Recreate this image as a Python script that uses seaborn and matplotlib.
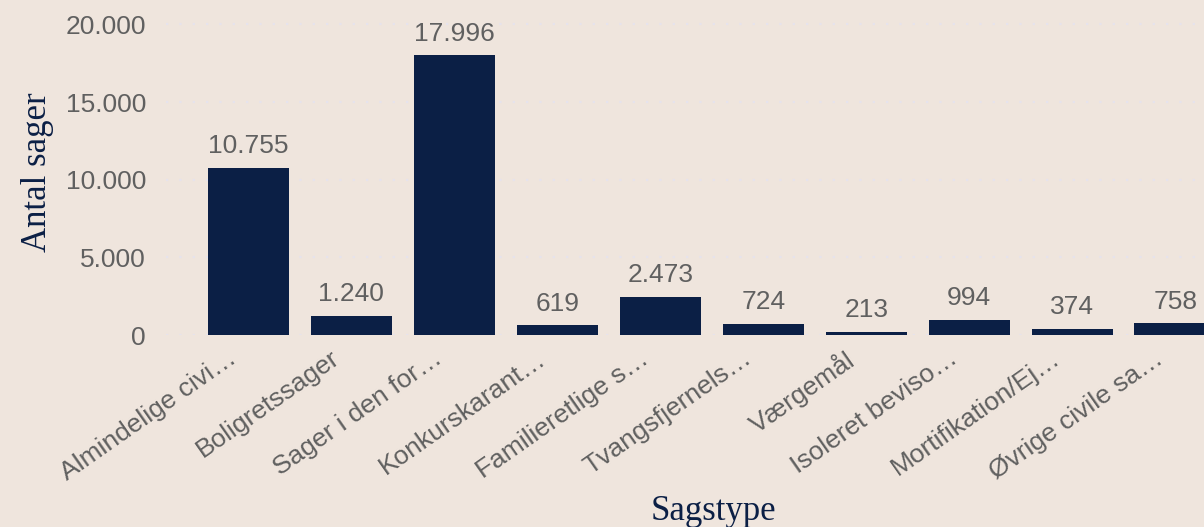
import matplotlib
matplotlib.use("Agg")
import matplotlib.pyplot as plt
import matplotlib.transforms as mtransforms
import seaborn as sns
import pandas as pd

categories = ["Almindelige civi…", "Boligretssager", "Sager i den for…", "Konkurskarant…",
              "Familieretlige s…", "Tvangsfjernels…", "Værgemål", "Isoleret beviso…",
              "Mortifikation/Ej…", "Øvrige civile sa…"]
values = [10755, 1240, 17996, 619, 2473, 724, 213, 994, 374, 758]
yticks = [0, 5000, 10000, 15000, 20000]

BG = "#EFE5DD"
NAVY = "#0B1F45"
GRAY = "#606060"

def fmt(v):
    return f"{v:,.0f}".replace(",", ".")

sns.set_theme(style="white")
plt.rcParams["font.family"] = ["Liberation Sans", "DejaVu Sans"]

df = pd.DataFrame({"Sagstype": categories, "Antal": values})

fig = plt.figure(figsize=(12.04, 5.27), dpi=100, facecolor=BG)
ax = fig.add_axes([0.1379, 0.3643, 1.0 - 0.1379, 0.9715 - 0.3643])
ax.set_facecolor(BG)

for t in yticks:
    ax.axhline(t, color="#E6E3EC", lw=1.6, ls=(0, (1, 5)), zorder=0)

sns.barplot(data=df, x="Sagstype", y="Antal", color=NAVY, width=0.79,
            saturation=1, ax=ax, zorder=2, linewidth=0, edgecolor="none")

for i, v in enumerate(values):
    ax.annotate(fmt(v), (i, v), xytext=(0, 7), textcoords="offset points",
                ha="center", va="bottom", fontsize=19, color=GRAY)

ax.set_xlim(-0.80, 9.28)
ax.set_ylim(0, 20600)
ax.set_yticks(yticks)
ax.set_yticklabels([fmt(t) for t in yticks], fontsize=19, color=GRAY)
ax.tick_params(axis="y", length=0, pad=14.4)
ax.tick_params(axis="x", length=0, pad=8)
ax.set_xticks(range(len(categories)))
ax.set_xticklabels(categories, rotation=35, ha="right", rotation_mode="anchor",
                   fontsize=19, color=GRAY)
shift = mtransforms.ScaledTranslation(-0.215, 0, fig.dpi_scale_trans)
for lab in ax.get_xticklabels():
    lab.set_transform(lab.get_transform() + shift)
for s in ax.spines.values():
    s.set_visible(False)

ax.set_xlabel("Sagstype", fontsize=25, color=NAVY, family=["Liberation Serif"])
ax.set_ylabel("Antal sager", fontsize=25, color=NAVY, family=["Liberation Serif"])
ax.xaxis.set_label_coords(0.527, -0.499)
ax.yaxis.set_label_coords(-0.108, 0.508)

fig.savefig("out.png", dpi=100, facecolor=BG)
